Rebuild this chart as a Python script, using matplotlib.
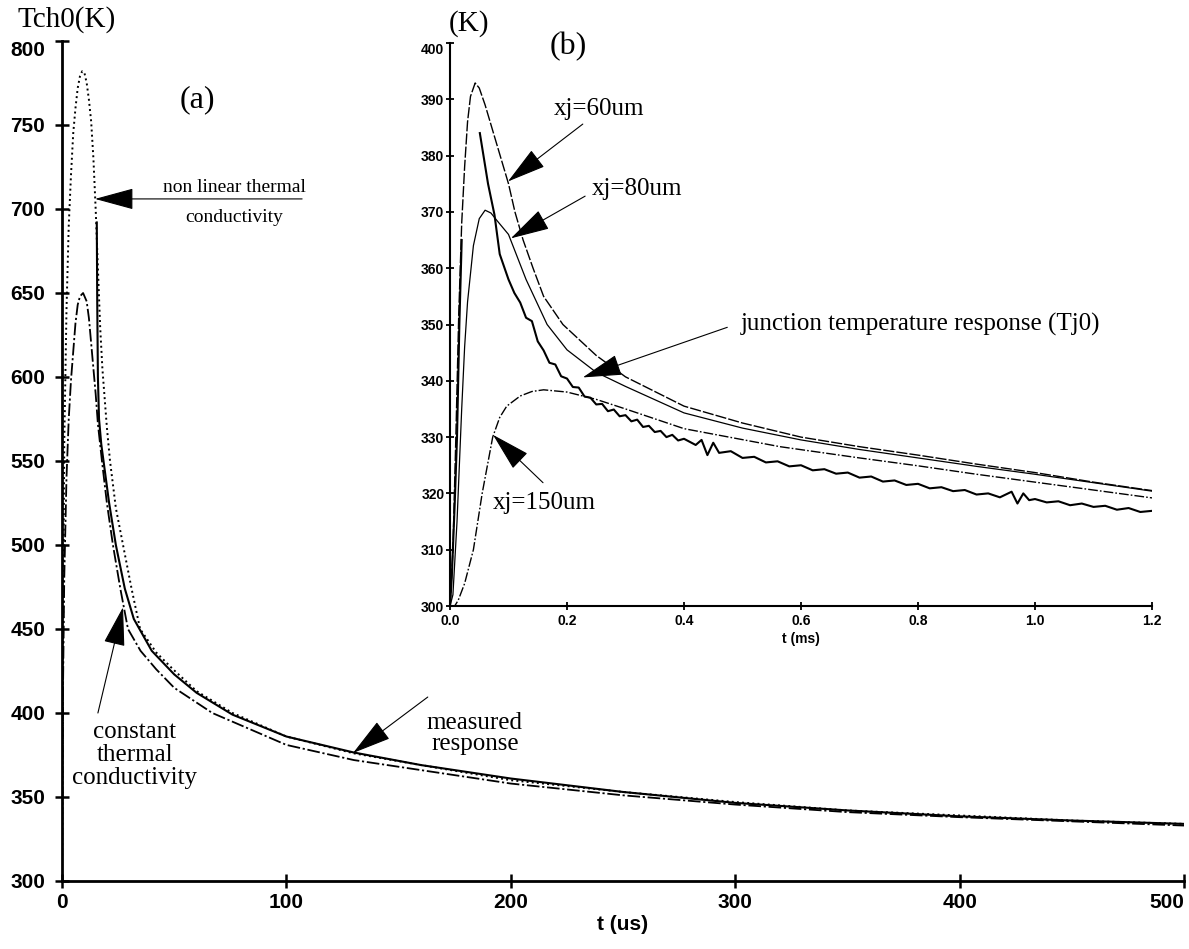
import numpy as np
import matplotlib.pyplot as plt

# ---- (a) channel temperature, t in us ----
t_nonlin = [0, 0.5, 1, 2, 3, 4, 5, 6, 7, 8, 9, 10, 11, 12, 13, 14, 15, 16, 17, 18,
            20, 21.4, 24, 27.2, 31, 34.8, 42, 49.5, 60, 76, 100, 130, 160, 200,
            250, 300, 350, 400, 450, 500]
T_nonlin = [300, 450, 560, 640, 690, 720, 745, 760, 772, 779, 782, 781, 775, 765,
            752, 730, 700, 665, 630, 605, 570, 550, 522, 500, 474, 450, 436, 426,
            413, 400, 386, 376, 369, 360, 353, 347, 342, 339, 336, 334]

t_const = [0, 0.5, 1, 2, 3, 4, 5, 6, 7, 8, 9.4, 11, 12, 13, 14, 15, 16, 17.8, 20,
           22.7, 26, 29.4, 35, 42, 50, 67, 100, 130, 160, 200, 250, 300, 350, 400,
           450, 500]
T_const = [300, 420, 480, 540, 575, 598, 615, 632, 643, 648, 650, 645, 635, 620,
           605, 590, 572, 550, 525, 500, 474, 450, 437, 426, 415, 400, 381, 372,
           366, 358, 351, 345.5, 341, 338, 335.5, 333]

t_meas = [15.5, 15.7, 16.0, 16.5, 17.5, 19, 21, 24, 28, 32, 40, 50, 60, 76, 100,
          130, 160, 200, 250, 300, 350, 400, 450, 500]
T_meas = [692, 645, 600, 575, 560, 545, 525, 500, 474, 456, 437, 423, 412, 399,
          386, 376.5, 369, 361, 353, 346.5, 342, 338.5, 336, 334]

# ---- (b) junction temperature, t in ms ----
t_60 = [0, 0.005, 0.01, 0.015, 0.02, 0.025, 0.03, 0.035, 0.043, 0.05, 0.06, 0.07,
        0.08, 0.09, 0.1, 0.111, 0.125, 0.142, 0.16, 0.193, 0.25, 0.3, 0.4, 0.5,
        0.6, 0.7, 0.8, 0.9, 1.0, 1.1, 1.2]
T_60 = [300, 310, 330, 352, 368, 378, 386, 390.5, 392.9, 392, 389, 385.5, 382,
        378.5, 375, 370, 365, 360, 355, 350, 344.5, 340.7, 335.5, 332.5, 330,
        328.3, 326.8, 325.2, 323.7, 322, 320.5]

t_80 = [0, 0.005, 0.012, 0.02, 0.025, 0.03, 0.04, 0.05, 0.06, 0.07, 0.08, 0.1,
        0.13, 0.166, 0.2, 0.25, 0.3, 0.4, 0.5, 0.6, 0.7, 0.8, 0.9, 1.0, 1.1, 1.2]
T_80 = [300, 302, 315, 335, 346, 354, 364, 368.8, 370.3, 369.8, 368.5, 366, 358,
        350, 345.5, 341.5, 339, 334.3, 331.6, 329.5, 327.8, 326.3, 324.8, 323.4,
        321.9, 320.4]

t_150 = [0, 0.008, 0.014, 0.025, 0.04, 0.055, 0.073, 0.085, 0.097, 0.12, 0.14,
         0.16, 0.2, 0.25, 0.3, 0.4, 0.564, 0.7, 0.8, 0.9, 1.0, 1.1, 1.2]
T_150 = [300, 300, 301, 304, 310, 320, 330, 333.5, 335.5, 337.3, 338.1, 338.4,
         338, 336.7, 335, 331.5, 328.3, 326.3, 324.9, 323.4, 322, 320.6, 319.2]

# measured Tj0 (noisy trace, read point by point)
t_tj = [0, 0.003, 0.008, 0.012, 0.016, 0.02, np.nan, 0.051, 0.065, 0.076, 0.085,
        0.10, 0.11, 0.12, 0.13, 0.14, 0.15, 0.16, 0.17, 0.18, 0.19, 0.20, 0.21,
        0.22, 0.23, 0.24, 0.25, 0.26, 0.27, 0.28, 0.29, 0.30, 0.31, 0.32, 0.33,
        0.34, 0.35, 0.36, 0.37, 0.38, 0.39, 0.40, 0.42, 0.43, 0.44, 0.45, 0.46,
        0.48, 0.50, 0.52, 0.54, 0.56, 0.58, 0.60, 0.62, 0.64, 0.66, 0.68, 0.70,
        0.72, 0.74, 0.76, 0.78, 0.80, 0.82, 0.84, 0.86, 0.88, 0.90, 0.92, 0.94,
        0.96, 0.97, 0.98, 0.99, 1.00, 1.02, 1.04, 1.06, 1.08, 1.10, 1.12, 1.14,
        1.16, 1.18, 1.20]
T_tj = [300, 305, 318, 330, 350, 365, np.nan, 384, 375, 369.5, 362.5,
        358.0, 355.6, 353.9, 351.2, 350.6, 347.0, 345.4, 343.2, 342.9, 340.8,
        340.4, 338.9, 338.8, 337.2, 337.0, 335.8, 335.9, 334.6, 334.9, 333.7,
        333.9, 332.8, 333.1, 331.8, 332.0, 330.9, 331.1, 330.0, 330.4, 329.4,
        329.7, 328.6, 329.5, 326.8, 329.0, 327.2, 327.5, 326.3, 326.5, 325.5,
        325.7, 324.8, 325.0, 324.1, 324.3, 323.5, 323.7, 322.8, 323.0, 322.1,
        322.3, 321.5, 321.7, 320.9, 321.1, 320.4, 320.6, 319.8, 320.0, 319.3,
        320.3, 318.2, 320.0, 318.8, 319.0, 318.4, 318.6, 317.9, 318.2, 317.6,
        317.8, 317.1, 317.4, 316.7, 316.9]

serif = 'Liberation Serif'
sans = 'Liberation Sans'

fig = plt.figure(figsize=(11.89, 9.49), dpi=100)
ax = fig.add_axes([62/1189, 68/949, 1122/1189, 840/949])
axi = fig.add_axes([450/1189, 343/949, 702/1189, 563/949])

dashdot = (0, (7, 1.5, 1.2, 1.5))

# main plot
ax.plot(t_nonlin, T_nonlin, color='k', ls=':', lw=1.4)
ax.plot(t_const, T_const, color='k', ls=dashdot, lw=1.3)
ax.plot(t_meas, T_meas, color='k', ls='-', lw=1.5)

ax.set_xlim(0, 500)
ax.set_ylim(300, 800)
ax.set_xticks(range(0, 501, 100))
ax.set_yticks(range(300, 801, 50))
for s in ['top', 'right']:
    ax.spines[s].set_visible(False)
for s in ['left', 'bottom']:
    ax.spines[s].set_linewidth(2)
ax.tick_params(direction='inout', length=10, width=1.8, pad=4)
ax.tick_params(axis='y', pad=7)
for lab in ax.get_xticklabels() + ax.get_yticklabels():
    lab.set_fontfamily(sans)
    lab.set_fontweight('bold')
    lab.set_fontsize(15)
ax.get_xticklabels()[-1].set_ha('right')
ax.get_yticklabels()[-1].set_va('top')
ax.set_xlabel('t (us)', fontfamily=sans, fontweight='bold', fontsize=15, labelpad=2)

fig.text(17/1189, 1 - 20/949, 'Tch0(K)', family=serif, fontsize=21, ha='left', va='center')
ax.text(60.2, 765, '(a)', family=serif, fontsize=23, ha='center', va='center')

arrow = dict(arrowstyle='-|>,head_length=1.25,head_width=0.34', color='k', lw=0.8,
             mutation_scale=20, shrinkA=0, shrinkB=0)

ax.text(76.8, 713, 'non linear thermal', family=serif, fontsize=14, ha='center', va='center')
ax.text(76.6, 695, 'conductivity', family=serif, fontsize=14, ha='center', va='center')
ax.annotate('', xy=(14.7, 706), xytext=(107, 706), arrowprops=arrow)

ax.text(32.5, 375, 'constant\nthermal\nconductivity', family=serif, fontsize=18,
        ha='center', va='center', linespacing=1.05)
ax.annotate('', xy=(27.2, 463), xytext=(16, 400), arrowprops=arrow)

ax.text(184, 388, 'measured\nresponse', family=serif, fontsize=18,
        ha='center', va='center', linespacing=0.95)
ax.annotate('', xy=(129.7, 376.2), xytext=(163, 409.5), arrowprops=arrow)

# inset
axi.set_facecolor('none')
axi.plot(t_60, T_60, color='k', ls=(0, (8, 1.5)), lw=1.0)
axi.plot(t_80, T_80, color='k', ls='-', lw=0.9)
axi.plot(t_150, T_150, color='k', ls=dashdot, lw=1.0)
axi.plot(t_tj, T_tj, color='k', ls='-', lw=1.5)

axi.set_xlim(0, 1.2)
axi.set_ylim(300, 400)
axi.set_xticks(np.arange(0, 1.21, 0.2))
axi.set_yticks(range(300, 401, 10))
axi.set_xticklabels(['0.0', '0.2', '0.4', '0.6', '0.8', '1.0', '1.2'])
for s in ['top', 'right']:
    axi.spines[s].set_visible(False)
for s in ['left', 'bottom']:
    axi.spines[s].set_linewidth(1.5)
axi.tick_params(direction='inout', length=6, width=1.3, pad=3)
axi.tick_params(axis='y', pad=1)
for lab in axi.get_xticklabels() + axi.get_yticklabels():
    lab.set_fontfamily(sans)
    lab.set_fontweight('bold')
    lab.set_fontsize(10)
axi.get_yticklabels()[-1].set_va('top')
axi.set_xlabel('t (ms)', fontfamily=sans, fontweight='bold', fontsize=10, labelpad=3)

axi.text(0.032, 403.4, '(K)', family=serif, fontsize=21, ha='center', va='center')
axi.text(0.2017, 399.3, '(b)', family=serif, fontsize=23, ha='center', va='center')

axi.text(0.255, 388.3, 'xj=60um', family=serif, fontsize=18, ha='center', va='center')
axi.annotate('', xy=(0.099, 375.4), xytext=(0.227, 385.6), arrowprops=arrow)

axi.text(0.32, 374.0, 'xj=80um', family=serif, fontsize=18, ha='center', va='center')
axi.annotate('', xy=(0.104, 365.3), xytext=(0.231, 372.8), arrowprops=arrow)

axi.text(0.805, 350.0, 'junction temperature response (Tj0)', family=serif,
         fontsize=18, ha='center', va='center')
axi.annotate('', xy=(0.227, 340.6), xytext=(0.474, 349.5), arrowprops=arrow)

axi.text(0.162, 318.3, 'xj=150um', family=serif, fontsize=18, ha='center', va='center')
axi.annotate('', xy=(0.0735, 330.4), xytext=(0.159, 321.9), arrowprops=arrow)

fig.savefig('out.png', dpi=100)
